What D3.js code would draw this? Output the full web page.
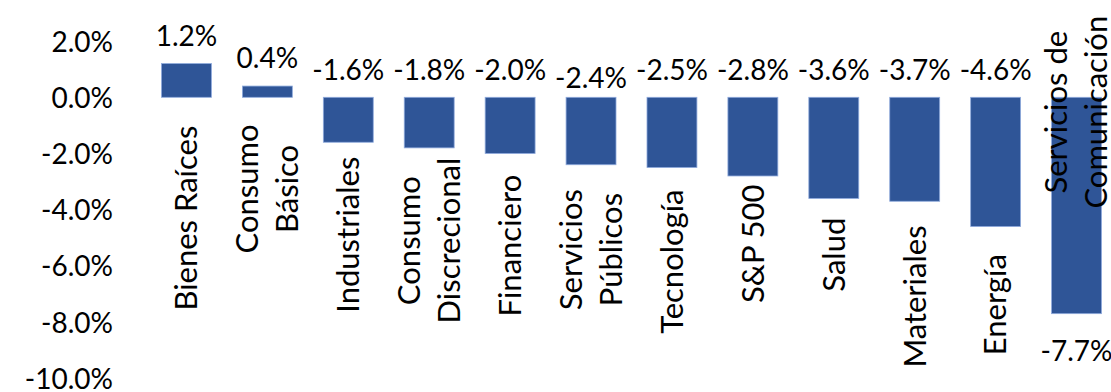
<!DOCTYPE html>
<html>
<head>
<meta charset="utf-8">
<script src="https://cdn.jsdelivr.net/npm/d3@7"></script>
<style>
  html, body { margin: 0; padding: 0; background: #fff; }
  svg { display: block; }
  text { font-family: Lato, "Noto Sans", sans-serif; fill: #000; }
</style>
</head>
<body>
<svg id="chart" width="1111" height="392"></svg>
<script>
// ---- data ----
const categories = [
  ["Bienes Raíces"],
  ["Consumo", "Básico"],
  ["Industriales"],
  ["Consumo", "Discrecional"],
  ["Financiero"],
  ["Servicios", "Públicos"],
  ["Tecnología"],
  ["S&P 500"],
  ["Salud"],
  ["Materiales"],
  ["Energía"],
  ["Servicios de", "Comunicación"]
];
const values = [1.2, 0.4, -1.6, -1.8, -2.0, -2.4, -2.5, -2.8, -3.6, -3.7, -4.6, -7.7];
// centre of each rotated category label, in % units
const labelCentres = [-4.3, -3.26, -4.89, -5.1, -5.28, -5.42, -5.85, -5.21, -5.6, -7.09, -7.38, -0.53];
const yTicks = [2, 0, -2, -4, -6, -8, -10];

// ---- layout ----
const svg = d3.select("#chart");
const y = d3.scaleLinear().domain([-10, 2]).range([378.3, 41.1]);
const x = d3.scaleBand().domain(d3.range(values.length))
  .range([146, 1117]).paddingInner(0.383).paddingOuter(0.1915);
const fmt = v => v.toFixed(1) + "%";

// y axis (labels only)
const yAxis = d3.axisLeft(y).tickValues(yTicks).tickFormat(fmt).tickSize(0).tickPadding(0);
const gy = svg.append("g").attr("transform", "translate(113,0)").call(yAxis);
gy.select(".domain").remove();
gy.selectAll("text")
  .style("font-family", "Lato, 'Noto Sans', sans-serif")
  .style("font-size", "28px")
  .attr("dy", "0.36em")
  .attr("fill", "#000");

// bars
svg.append("g").selectAll("rect").data(values).join("rect")
  .attr("x", (d, i) => x(i))
  .attr("width", x.bandwidth())
  .attr("y", d => y(Math.max(0, d)))
  .attr("height", d => Math.abs(y(d) - y(0)))
  .attr("fill", "#2F5597")
  .attr("stroke", "#8FAADC")
  .attr("stroke-width", 0.8);

// value labels
svg.append("g").selectAll("text").data(values).join("text")
  .attr("x", (d, i) => x(i) + x.bandwidth() / 2)
  .attr("y", (d, i) => {
    if (i === values.length - 1) return y(d) + 47;
    if (d >= 0) return y(d) - 18;
    return y(0) - 17 + (i === 5 ? 8 : 0);
  })
  .attr("text-anchor", "middle")
  .style("font-size", "28px")
  .text(fmt);

// category labels (rotated)
const cg = svg.append("g").selectAll("g").data(categories).join("g")
  .attr("transform", (d, i) =>
    `translate(${x(i) + x.bandwidth() / 2},${y(labelCentres[i])}) rotate(-90)`);
cg.each(function(lines) {
  const g = d3.select(this);
  const n = lines.length;
  const lh = 40;
  lines.forEach((t, k) => {
    g.append("text")
      .attr("x", 0)
      .attr("y", (k - (n - 1) / 2) * lh)
      .attr("dy", "0.35em")
      .attr("text-anchor", "middle")
      .style("font-size", "31px")
      .text(t);
  });
});
</script>
</body>
</html>
